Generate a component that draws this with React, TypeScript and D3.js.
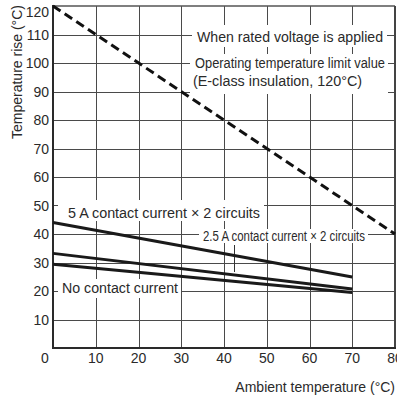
import { useEffect, useRef } from "react";
import * as d3 from "d3";

// chart values
const xTicks = [0, 10, 20, 30, 40, 50, 60, 70, 80];
const yTicks = [10, 20, 30, 40, 50, 60, 70, 80, 90, 100, 110, 120];
const ambient = [0, 70];
const rise5A = [44, 24.9];
const rise25A = [33.2, 20.7];
const riseNone = [29.4, 19.5];
const limitAmbient = [0, 80];
const limitRise = [120, 40];

const App = () => {
  const svgRef = useRef<SVGSVGElement | null>(null);

  useEffect(() => {
    drawChart();
  }, []);

  const drawChart = () => {
    const w = 397;
    const h = 400;
    const svg = d3.select(svgRef.current).attr("width", w).attr("height", h);
    svg.selectAll("*").remove();

    const x = d3.scaleLinear().domain([0, 80]).range([53, 395]);
    const y = d3.scaleLinear().domain([0, 120]).range([348, 6]);
    const font = "'Liberation Sans', Arial, sans-serif";
    const textCol = "#2a2a2a";

    // grid
    const grid = svg.append("g").attr("stroke", "#4a4a4a").attr("stroke-width", 1);
    grid
      .selectAll("line.h")
      .data(yTicks.filter((t) => t < 120))
      .join("line")
      .attr("x1", x(0))
      .attr("x2", x(80))
      .attr("y1", (d) => Math.round(y(d)) + 0.5)
      .attr("y2", (d) => Math.round(y(d)) + 0.5);
    grid
      .selectAll("line.v")
      .data(xTicks.filter((t) => t > 0 && t < 80))
      .join("line")
      .attr("x1", (d) => Math.round(x(d)) + 0.5)
      .attr("x2", (d) => Math.round(x(d)) + 0.5)
      .attr("y1", y(120))
      .attr("y2", y(0));

    // white boxes behind the labels (they hide the grid)
    const boxes = [
      [192, 25, 387, 47],
      [190, 54, 388, 94],
      [58, 200, 264, 221],
      [199, 229, 368, 243],
      [58, 279, 181, 298],
    ];
    svg
      .append("g")
      .selectAll("rect")
      .data(boxes)
      .join("rect")
      .attr("x", (d) => d[0])
      .attr("y", (d) => d[1])
      .attr("width", (d) => d[2] - d[0])
      .attr("height", (d) => d[3] - d[1])
      .attr("fill", "#fff");

    // frame
    svg
      .append("path")
      .attr("d", `M${x(0)},${y(120)}H${x(80)}`)
      .attr("stroke", "#555")
      .attr("stroke-width", 1.5);
    svg
      .append("path")
      .attr("d", `M${x(80)},${y(120)}V${y(0)}`)
      .attr("stroke", "#444")
      .attr("stroke-width", 2);
    svg
      .append("path")
      .attr("d", `M${x(0)},${y(120) - 1}V${y(0)}H${x(80) + 1}`)
      .attr("fill", "none")
      .attr("stroke", "#2a2a2a")
      .attr("stroke-width", 2);

    // leader from 2.5 A label
    svg
      .append("line")
      .attr("x1", 234.5)
      .attr("x2", 234.5)
      .attr("y1", 245)
      .attr("y2", 272)
      .attr("stroke", "#333")
      .attr("stroke-width", 1);

    // data lines
    const line = d3
      .line<number>()
      .x((_, i) => x(ambient[i]))
      .y((d) => y(d));
    [rise5A, rise25A, riseNone].forEach((s) => {
      svg
        .append("path")
        .attr("d", line(s))
        .attr("fill", "none")
        .attr("stroke", "#1a1a1a")
        .attr("stroke-width", 3);
    });
    const limitLine = d3
      .line<number>()
      .x((_, i) => x(limitAmbient[i]))
      .y((d) => y(d));
    svg
      .append("path")
      .attr("d", limitLine(limitRise))
      .attr("fill", "none")
      .attr("stroke", "#111")
      .attr("stroke-width", 3)
      .attr("stroke-dasharray", "9,5");

    // tick labels
    svg
      .append("g")
      .selectAll("text")
      .data(yTicks)
      .join("text")
      .attr("x", 49)
      .attr("y", (d) => (d === 120 ? 17 : y(d) + 5))
      .attr("text-anchor", "end")
      .attr("font-family", font)
      .attr("font-size", 14)
      .attr("fill", textCol)
      .text((d) => d);
    svg
      .append("g")
      .selectAll("text")
      .data(xTicks)
      .join("text")
      .attr("x", (d) => (d === 0 ? 45 : x(d)))
      .attr("y", 363)
      .attr("text-anchor", "middle")
      .attr("font-family", font)
      .attr("font-size", 14)
      .attr("fill", textCol)
      .text((d) => d);

    // axis titles
    svg
      .append("text")
      .attr("transform", "translate(22,72) rotate(-90)")
      .attr("text-anchor", "middle")
      .attr("font-family", font)
      .attr("font-size", 14)
      .attr("fill", textCol)
      .text("Temperature rise (°C)");
    svg
      .append("text")
      .attr("x", 395)
      .attr("y", 392)
      .attr("text-anchor", "end")
      .attr("font-family", font)
      .attr("font-size", 14)
      .attr("fill", textCol)
      .text("Ambient temperature (°C)");

    // annotations
    const notes: [string, number, number, number, number][] = [
      ["When rated voltage is applied", 197, 42, 186, 14],
      ["Operating temperature limit value", 195, 68, 190, 14],
      ["(E-class insulation, 120°C)", 193, 86, 169, 14],
      ["5 A contact current × 2 circuits", 68, 218, 192, 14],
      ["2.5 A contact current × 2 circuits", 203, 241, 162, 14],
      ["No contact current", 62, 293, 116, 14],
    ];
    svg
      .append("g")
      .selectAll("text")
      .data(notes)
      .join("text")
      .attr("x", (d) => d[1])
      .attr("y", (d) => d[2])
      .attr("textLength", (d) => d[3])
      .attr("lengthAdjust", "spacingAndGlyphs")
      .attr("font-family", font)
      .attr("font-size", (d) => d[4])
      .attr("fill", textCol)
      .text((d) => d[0]);
  };

  return (
    <div style={{ position: "absolute", left: 0, top: 0 }}>
      <svg ref={svgRef}></svg>
    </div>
  );
};

export default App;
